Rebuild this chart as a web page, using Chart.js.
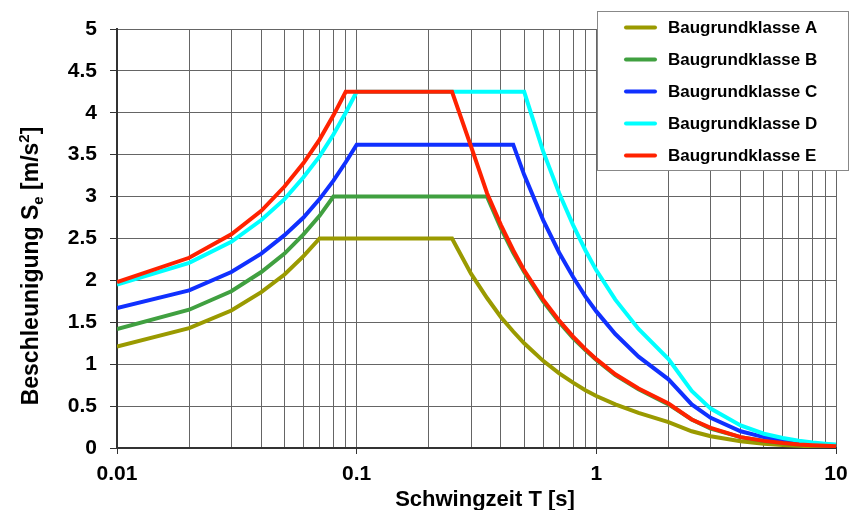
<!DOCTYPE html>
<html>
<head>
<meta charset="utf-8">
<script src="https://cdn.jsdelivr.net/npm/chart.js@4.4.1/dist/chart.umd.min.js"></script>
<style>
  html, body { margin: 0; padding: 0; background: #fff; }
  #wrap { position: relative; width: 850px; height: 510px; }
</style>
</head>
<body>
<div id="wrap"><canvas id="spectrumChart" width="850" height="510"></canvas></div>
<script>
// Schwingzeit T [s] (sample points)
const periods = [0.01, 0.02, 0.03, 0.04, 0.05, 0.06, 0.07, 0.08, 0.09, 0.1, 0.2, 0.25, 0.3, 0.35, 0.4, 0.45, 0.5,
  0.6, 0.7, 0.8, 0.9, 1, 1.2, 1.5, 2, 2.5, 3, 4, 5, 6, 7, 8, 9, 10];

// Se [m/s2] per Baugrundklasse
const klasseA = [1.21, 1.43, 1.64, 1.86, 2.07, 2.29, 2.5, 2.5, 2.5, 2.5, 2.5, 2.5, 2.08, 1.79, 1.56, 1.39, 1.25,
  1.04, 0.89, 0.78, 0.69, 0.62, 0.52, 0.42, 0.31, 0.2, 0.14, 0.08, 0.05, 0.035, 0.026, 0.02, 0.015, 0.012];
const klasseB = [1.42, 1.65, 1.87, 2.1, 2.32, 2.55, 2.77, 3.0, 3.0, 3.0, 3.0, 3.0, 3.0, 3.0, 2.62, 2.33, 2.1,
  1.75, 1.5, 1.31, 1.17, 1.05, 0.87, 0.7, 0.52, 0.34, 0.23, 0.13, 0.084, 0.058, 0.043, 0.033, 0.026, 0.021];
const klasseC = [1.67, 1.88, 2.1, 2.32, 2.54, 2.75, 2.97, 3.19, 3.41, 3.62, 3.62, 3.62, 3.62, 3.62, 3.62, 3.62, 3.26,
  2.72, 2.33, 2.04, 1.81, 1.63, 1.36, 1.09, 0.82, 0.52, 0.36, 0.2, 0.13, 0.09, 0.067, 0.051, 0.04, 0.033];
const klasseD = [1.95, 2.21, 2.46, 2.72, 2.97, 3.23, 3.48, 3.74, 4.0, 4.25, 4.25, 4.25, 4.25, 4.25, 4.25, 4.25, 4.25,
  3.54, 3.04, 2.66, 2.36, 2.12, 1.77, 1.42, 1.06, 0.68, 0.47, 0.27, 0.17, 0.12, 0.087, 0.066, 0.052, 0.042];
const klasseE = [1.98, 2.27, 2.55, 2.83, 3.12, 3.4, 3.68, 3.97, 4.25, 4.25, 4.25, 4.25, 3.6, 3.04, 2.66, 2.36, 2.12,
  1.77, 1.52, 1.33, 1.18, 1.06, 0.88, 0.71, 0.53, 0.34, 0.24, 0.13, 0.085, 0.059, 0.043, 0.033, 0.026, 0.021];

const seriesNames = ['Baugrundklasse A', 'Baugrundklasse B', 'Baugrundklasse C', 'Baugrundklasse D', 'Baugrundklasse E'];
const seriesColors = ['#9a9a00', '#40a040', '#1030ff', '#00ffff', '#ff2200'];

// x axis gridlines (log) and labelled decades
const xGridValues = [0.01, 0.02, 0.03, 0.04, 0.05, 0.06, 0.07, 0.08, 0.09, 0.1, 0.2, 0.3, 0.4, 0.5, 0.6, 0.7, 0.8, 0.9,
  1, 2, 3, 4, 5, 6, 7, 8, 9, 10];
const xLabelValues = [0.01, 0.1, 1, 10];

const FONT = 'Liberation Sans, Arial, sans-serif';
const GRID = '#656565';

const allSeries = [klasseA, klasseB, klasseC, klasseD, klasseE];

const datasets = allSeries.map((vals, i) => ({
  label: seriesNames[i],
  data: periods.map((t, j) => ({ x: t, y: vals[j] })),
  borderColor: seriesColors[i],
  backgroundColor: seriesColors[i],
  borderWidth: 4,
  pointRadius: 0,
  tension: 0,
  fill: false,
  order: 5 - i   // E on top
}));

// y title with subscript / superscript, x title, legend box
const extrasPlugin = {
  id: 'extras',
  afterDraw(chart) {
    const ctx = chart.ctx;
    ctx.save();
    ctx.fillStyle = '#000';
    ctx.textBaseline = 'alphabetic';

    // y axis title
    const parts = [
      { t: 'Beschleunigung S', size: 23, dy: 0 },
      { t: 'e', size: 15, dy: 5 },
      { t: ' [m/s', size: 23, dy: 0 },
      { t: '2', size: 15, dy: -9 },
      { t: ']', size: 23, dy: 0 }
    ];
    let total = 0;
    parts.forEach(p => { ctx.font = 'bold ' + p.size + 'px ' + FONT; p.w = ctx.measureText(p.t).width; total += p.w; });
    ctx.translate(37.5, 266);
    ctx.rotate(-Math.PI / 2);
    let x = -total / 2;
    parts.forEach(p => {
      ctx.font = 'bold ' + p.size + 'px ' + FONT;
      ctx.fillText(p.t, x, p.dy);
      x += p.w;
    });
    ctx.setTransform(1, 0, 0, 1, 0, 0);

    // x axis title
    ctx.font = 'bold 22px ' + FONT;
    ctx.textAlign = 'center';
    ctx.fillText('Schwingzeit T [s]', 485, 506);

    // legend
    const lx = 597, ly = 11, lw = 252, lh = 160;
    ctx.fillStyle = '#fff';
    ctx.fillRect(lx, ly, lw, lh);
    ctx.strokeStyle = '#888';
    ctx.lineWidth = 1;
    ctx.strokeRect(lx + 0.5, ly + 0.5, lw - 1, lh - 1);
    ctx.textAlign = 'left';
    ctx.textBaseline = 'middle';
    ctx.font = 'bold 17px ' + FONT;
    ctx.lineCap = 'round';
    chart.data.datasets.forEach((ds, i) => {
      const y = 27.5 + i * 32;
      ctx.strokeStyle = ds.borderColor;
      ctx.lineWidth = 4;
      ctx.beginPath();
      ctx.moveTo(626, y);
      ctx.lineTo(655, y);
      ctx.stroke();
      ctx.fillStyle = '#000';
      ctx.fillText(ds.label, 668, y + 1);
    });
    ctx.restore();
  }
};

new Chart(document.getElementById('spectrumChart'), {
  type: 'line',
  data: { datasets },
  options: {
    responsive: false,
    animation: false,
    events: [],
    layout: { padding: { left: 0, right: 14, top: 29, bottom: 0 } },
    plugins: {
      legend: { display: false },
      tooltip: { enabled: false }
    },
    scales: {
      x: {
        type: 'logarithmic',
        min: 0.01,
        max: 10,
        afterBuildTicks: axis => { axis.ticks = xGridValues.map(v => ({ value: v })); },
        afterFit: axis => {
          axis.height = 62;
          axis.paddingLeft = 0;
          axis.paddingRight = 0;
        },
        grid: {
          color: GRID,
          lineWidth: 1,
          tickLength: 6,
          tickColor: c => (c.tick && xLabelValues.includes(c.tick.value)) ? '#333' : 'rgba(0,0,0,0)'
        },
        border: { color: '#333', width: 2 },
        ticks: {
          autoSkip: false,
          maxRotation: 0,
          padding: 8,
          color: '#000',
          font: { family: FONT, size: 21, weight: 'bold' },
          callback: v => xLabelValues.includes(v) ? String(v) : ''
        }
      },
      y: {
        min: 0,
        max: 5,
        afterFit: axis => { axis.width = 117; },
        grid: { color: GRID, lineWidth: 1, tickLength: 7, tickColor: '#333' },
        border: { color: '#333', width: 2 },
        ticks: {
          stepSize: 0.5,
          padding: 13,
          color: '#000',
          font: { family: FONT, size: 21, weight: 'bold' },
          callback: v => String(v)
        }
      }
    }
  },
  plugins: [extrasPlugin]
});
</script>
</body>
</html>
